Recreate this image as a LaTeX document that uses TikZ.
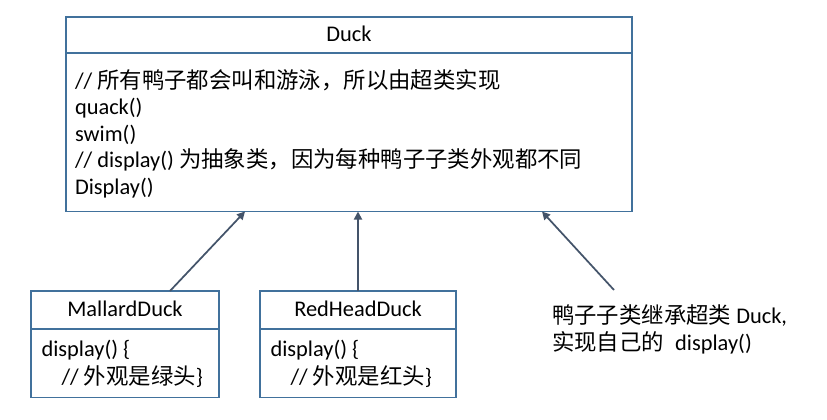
\documentclass[tikz,border=0pt]{standalone}
\usepackage{fontspec}
\setmainfont{Carlito}
\newfontfamily\cjk{Noto Sans CJK SC}
\usetikzlibrary{arrows.meta}
\definecolor{boxblue}{HTML}{41719C}
\definecolor{arrowgray}{HTML}{44546A}
\newcommand\zh[1]{{\cjk #1}}
\begin{document}
\begin{tikzpicture}[x=0.75pt,y=-0.75pt,
  umlbox/.style={draw=boxblue,line width=1.4pt,fill=white,inner sep=0pt,outer sep=0pt},
  txt/.style={inner sep=0pt,outer sep=0pt,anchor=base west,font=\fontsize{16.8pt}{20pt}\selectfont},
  title/.style={txt,anchor=base},
  arr/.style={draw=arrowgray,line width=1.3pt,-{Triangle[length=6pt,width=6pt]}},
  divider/.style={draw=boxblue,line width=1.4pt}]
\fill[white] (0,0) rectangle (827,420);
\useasboundingbox (0,0) rectangle (827,420);
% Duck
\node[umlbox,minimum width=424.5pt,minimum height=145.9pt] (duck) at (349,114.25) {};
\draw[divider] ([yshift=-27pt]duck.north west) -- ([yshift=-27pt]duck.north east);
\node[title] (duckname) at (349,42) {Duck};
\node[txt] (d1) at (75,88.5) {// \zh{所有鸭子都会叫和游泳，所以由超类实现}};
\node[txt] (d2) at (75,115) {quack()};
\node[txt] (d3) at (75,141.5) {swim()};
\node[txt] (d4) at (75,168) {// display() \zh{为抽象类，因为每种鸭子子类外观都不同}};
\node[txt] (d5) at (75,194.5) {Display()};
% MallardDuck
\node[umlbox,minimum width=141pt,minimum height=79.9pt] (mallard) at (125,344.25) {};
\draw[divider] ([yshift=-28.5pt]mallard.north west) -- ([yshift=-28.5pt]mallard.north east);
\node[title] (mname) at (125,316) {MallardDuck};
\node[txt] (m1) at (41.5,356) {display() \{};
\node[txt] (m2) at (61.5,384) {// \zh{外观是绿头}\}};
% RedHeadDuck
\node[umlbox,minimum width=147pt,minimum height=79.9pt] (redhead) at (358,344.25) {};
\draw[divider] ([yshift=-28.5pt]redhead.north west) -- ([yshift=-28.5pt]redhead.north east);
\node[title] (rname) at (358,316) {RedHeadDuck};
\node[txt] (r1) at (270.5,356) {display() \{};
\node[txt] (r2) at (290.5,384) {// \zh{外观是红头}\}};
% arrows
\draw[arr] ([xshift=33.75pt]mallard.north) -- ([xshift=-78pt]duck.south);
\draw[arr] (redhead.north) -- (redhead.north |- duck.south);
\coordinate (notept) at (614,290);
\draw[arr] (notept) -- ([xshift=144.75pt]duck.south);
% note
\node[txt] (n1) at (552,323) {\zh{鸭子子类继承超类} Duck,};
\node[txt] (n2) at (552,350.5) {\zh{实现自己的}\hspace{0.5em}display()};
\end{tikzpicture}
\end{document}
